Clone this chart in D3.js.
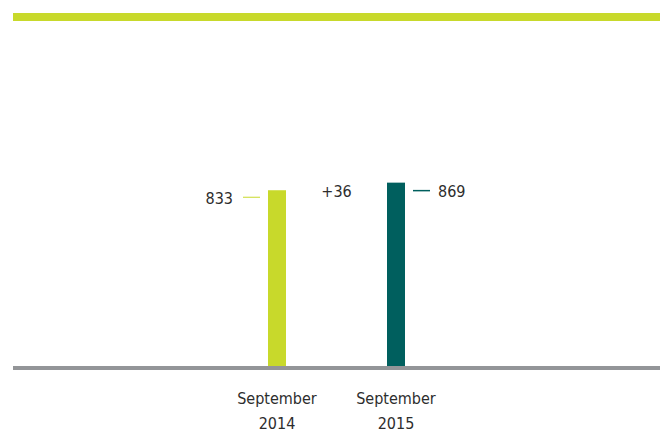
<!DOCTYPE html>
<html><head><meta charset="utf-8">
<script src="https://cdn.jsdelivr.net/npm/d3@7"></script>
<style>body{margin:0;background:#fff}svg{display:block}</style>
</head><body><svg id="c" width="667" height="432"></svg>
<script>
const categories = ["September 2014", "September 2015"];
const values = [833, 869];
const colors = ["#c8d92b", "#005f5e"];
const changeLabel = "+36";

const svg = d3.select("#c");
const font = "'DejaVu Sans Condensed','DejaVu Sans',sans-serif";
const textColor = "#2d2d2d";

const x = d3.scalePoint().domain(categories).range([158, 515]).padding(1);
const y = d3.scaleLinear().domain([0, 1000]).range([366, 155]);
const bw = 18;

// top decorative bar
svg.append("rect").attr("x", 13).attr("y", 13).attr("width", 647).attr("height", 8).attr("fill", "#c8d92b");

// bars
svg.selectAll("rect.bar").data(values).enter().append("rect")
  .attr("class", "bar")
  .attr("x", (d, i) => x(categories[i]) - bw / 2)
  .attr("y", d => y(d))
  .attr("width", bw)
  .attr("height", d => y(0) - y(d))
  .attr("fill", (d, i) => colors[i]);

// baseline
svg.append("rect").attr("x", 13).attr("y", y(0)).attr("width", 647).attr("height", 4).attr("fill", "#939598");

// value labels with leaders
values.forEach((v, i) => {
  const cx = x(categories[i]);
  const top = y(v);
  const left = i === 0;
  const ly = top + (left ? 7 : 8);
  svg.append("line")
    .attr("x1", left ? cx - bw / 2 - 25 : cx + bw / 2 + 8)
    .attr("x2", left ? cx - bw / 2 - 8 : cx + bw / 2 + 25)
    .attr("y1", ly).attr("y2", ly)
    .attr("stroke", colors[i]).attr("stroke-width", left ? 1 : 1.5);
  svg.append("text")
    .attr("x", left ? cx - bw / 2 - 35 : cx + bw / 2 + 33)
    .attr("y", top + 14)
    .attr("text-anchor", left ? "end" : "start")
    .attr("font-family", font).attr("font-size", 16).attr("fill", textColor)
    .text(d3.format("d")(v));
});

// change label
svg.append("text")
  .attr("x", (x(categories[0]) + x(categories[1])) / 2)
  .attr("y", y(values[1]) + 14)
  .attr("text-anchor", "middle")
  .attr("font-family", font).attr("font-size", 16).attr("fill", textColor)
  .text(changeLabel);

// category labels
categories.forEach(c => {
  const parts = c.split(" ");
  const t = svg.append("text")
    .attr("text-anchor", "middle")
    .attr("font-family", font).attr("font-size", 16).attr("fill", textColor);
  parts.forEach((p, j) => {
    t.append("tspan").attr("x", x(c)).attr("y", 404 + j * 25).text(p);
  });
});
</script></body></html>
